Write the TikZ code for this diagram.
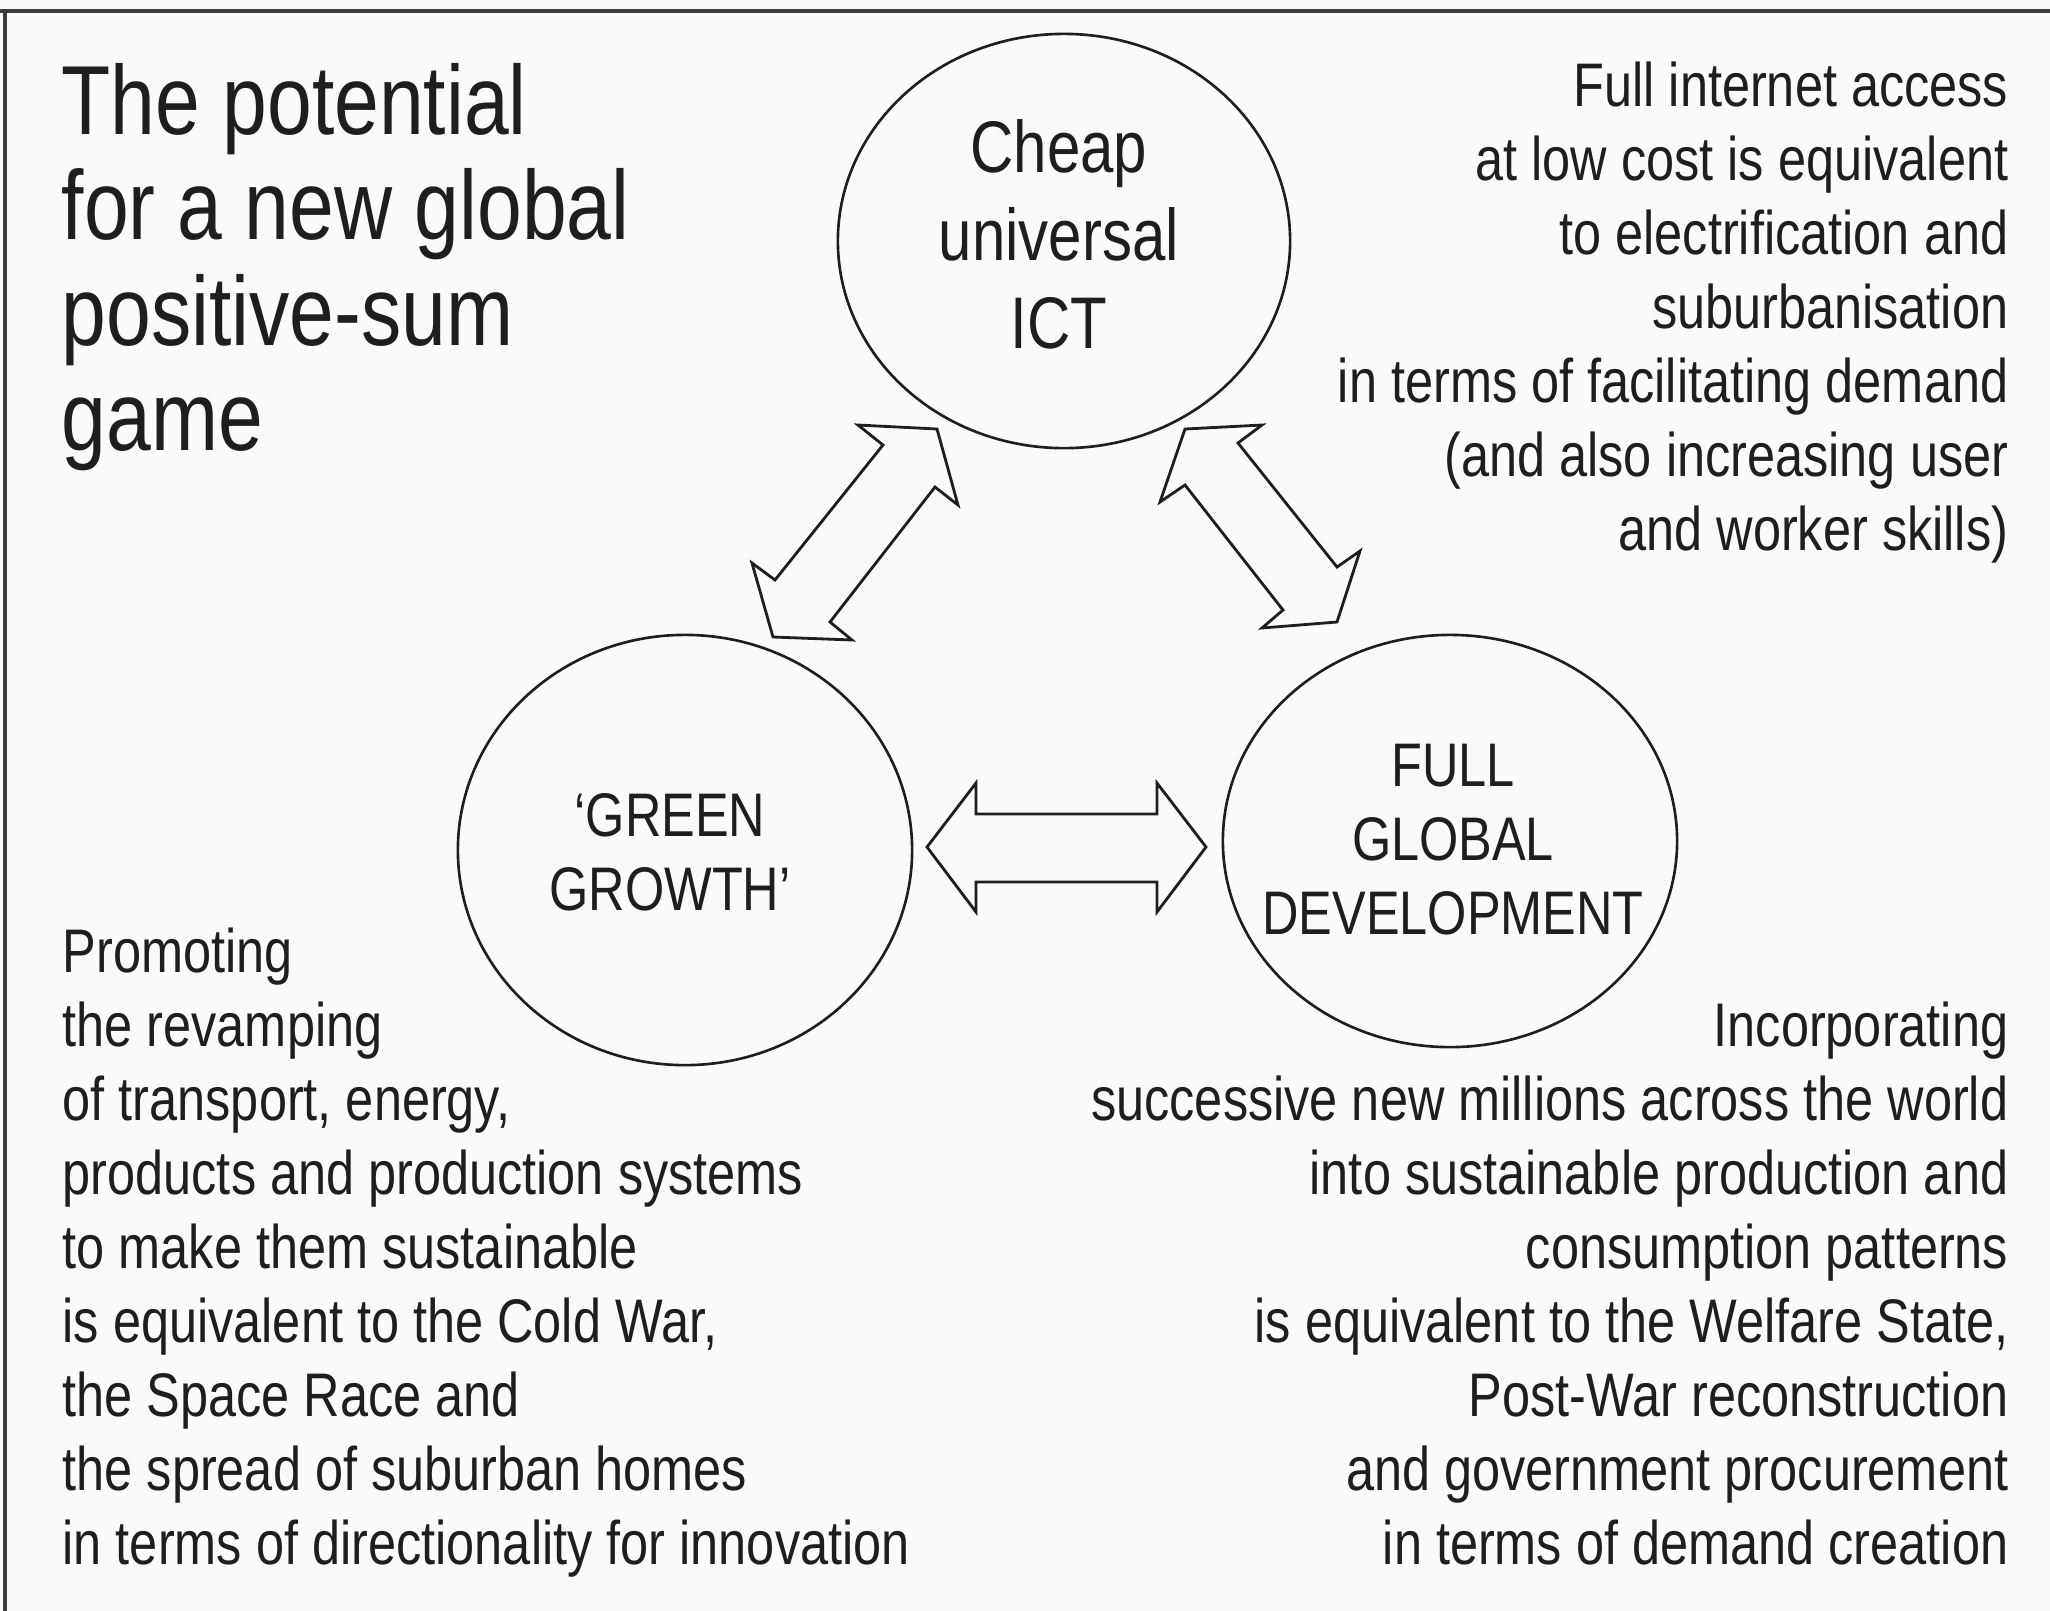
\documentclass[tikz,border=0pt]{standalone}
\usepackage{fontspec}
\setmainfont[FakeStretch=0.82]{Liberation Sans}
\usetikzlibrary{shapes.geometric}
\definecolor{ink}{HTML}{1E1E1E}
\definecolor{paper}{HTML}{FAFAFA}
\definecolor{framecol}{HTML}{3C3C3C}
\begin{document}
\begin{tikzpicture}[x=0.01cm,y=-0.01cm,
  bubble/.style={draw=ink, line width=0.75pt, ellipse, inner sep=0pt},
  blockarrow/.style={draw=ink, line width=0.8pt, line join=miter, fill=paper},
  bodytext/.style={inner sep=0pt, text=ink, font=\fontsize{17.5pt}{21.05pt}\selectfont},
  bigtext/.style={inner sep=0pt, text=ink, font=\fontsize{20.8pt}{25pt}\selectfont},
  titletext/.style={inner sep=0pt, text=ink, font=\fontsize{27.9pt}{29.9pt}\selectfont},
  frameline/.style={draw=framecol, line width=0.9pt}
]
\fill[paper] (0,0) rectangle (2050,1611);
\useasboundingbox (0,0) rectangle (2050,1611);
\draw[frameline] (0,11) -- (2050,11);
\draw[frameline] (5,11) -- (5,1611);

% circles
\node[bubble, minimum width=4.52cm, minimum height=4.14cm] (ict) at (1064,241) {};
\node[bubble, minimum width=4.54cm, minimum height=4.30cm] (green) at (685,850) {};
\node[bubble, minimum width=4.54cm, minimum height=4.12cm] (full) at (1450,841) {};

% circle labels
\node[bigtext, align=center, anchor=north] (ictlabel) at (1059,119) {Cheap\\universal\\ICT};
\node[bodytext, align=center, anchor=north] (greenlabel) at (670,793) {‘GREEN\\GROWTH’};
\node[bodytext, align=center, anchor=north] (fulllabel) at (1453,743) {FULL\\GLOBAL\\DEVELOPMENT};

% title
\node[titletext, align=left, anchor=north west] (title) at (61,63)
  {The potential\\for a new global\\positive-sum\\game};

% notes
\node[bodytext, align=right, anchor=north east] (ictnote) at (2009,61)
  {Full internet access\\at low cost is equivalent\\to electrification and\\suburbanisation\\in terms of facilitating demand\\(and also increasing user\\and worker skills)};
\node[bodytext, align=left, anchor=north west] (greennote) at (62,927)
  {Promoting\\the revamping\\of transport, energy,\\products and production systems\\to make them sustainable\\is equivalent to the Cold War,\\the Space Race and\\the spread of suburban homes\\in terms of directionality for innovation};
\node[bodytext, align=right, anchor=north east] (fullnote) at (2009,1001)
  {Incorporating\\successive new millions across the world\\into sustainable production and\\consumption patterns\\is equivalent to the Welfare State,\\Post-War reconstruction\\and government procurement\\in terms of demand creation};

% block arrows
\draw[blockarrow] (937,429) -- (958,505) -- (935,487) -- (830,622) -- (852,640) -- (773,637)
  -- (752,563) -- (775,580) -- (883,445) -- (858,425) -- cycle;
\draw[blockarrow] (1185,429) -- (1262,425) -- (1238,443) -- (1337,567) -- (1360,551) -- (1337,622)
  -- (1262,628) -- (1283,610) -- (1185,485) -- (1160,502) -- cycle;
\draw[blockarrow] (927,847) -- (976,783) -- (976,814) -- (1157,814) -- (1157,783) -- (1206,847)
  -- (1157,912) -- (1157,882) -- (976,882) -- (976,912) -- cycle;
\end{tikzpicture}
\end{document}
